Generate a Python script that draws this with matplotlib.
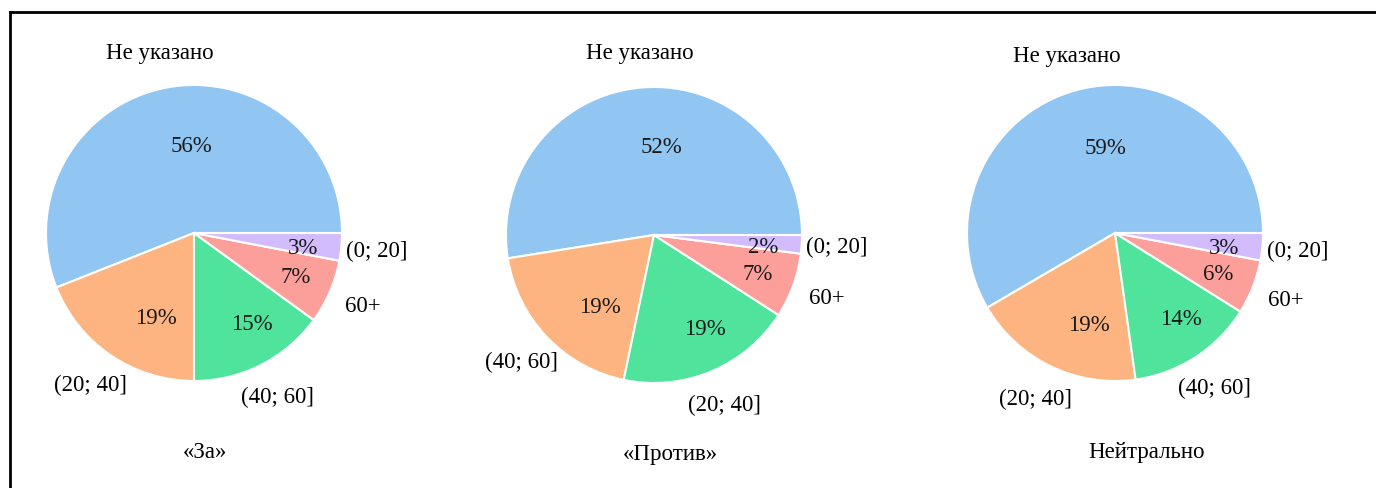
import matplotlib
matplotlib.use('Agg')
import matplotlib.pyplot as plt
from matplotlib.lines import Line2D

plt.rcParams['font.family'] = ['Liberation Serif', 'DejaVu Serif']
plt.rcParams['font.size'] = 16.5

# data, counterclockwise from 3 o'clock
titles = ['«За»', '«Против»', 'Нейтрально']
labels_za = ['Не указано', '(20; 40]', '(40; 60]', '60+', '(0; 20]']
values_za = [56, 19, 15, 7, 3]
labels_protiv = ['Не указано', '(40; 60]', '(20; 40]', '60+', '(0; 20]']
values_protiv = [52, 19, 19, 7, 2]
labels_neutral = ['Не указано', '(20; 40]', '(40; 60]', '60+', '(0; 20]']
values_neutral = [59, 19, 14, 6, 3]

colors = ['#90c6f1', '#fdb480', '#4fe39b', '#fc9f9b', '#d3bcfd']

W, H = 1376, 489
fig = plt.figure(figsize=(W / 100, H / 100), dpi=100)

# pie centres in pixels (x from left, y from bottom), radius 148 px
centers = [(194, 255), (654, 253), (1115, 255)]
side = 370
title_x = [0.53, 0.545, 0.585]

pies = [(labels_za, values_za), (labels_protiv, values_protiv), (labels_neutral, values_neutral)]

for i, (labs, vals) in enumerate(pies):
    cx, cy = centers[i]
    ax = fig.add_axes([(cx - side / 2) / W, (cy - side / 2) / H, side / W, side / H])
    wedges, texts, autotexts = ax.pie(vals, labels=labs, colors=colors, startangle=0,
                                      autopct='%d%%', pctdistance=0.64, labeldistance=1.24,
                                      wedgeprops=dict(edgecolor='white', linewidth=1.5))
    for t in texts:
        t.set_ha('center')
        t.set_va('center')
        t.set_clip_on(False)
    for t, v in zip(autotexts, vals):
        # percentages shown as rounded values, nudged a little right/down
        t.set_text('%d%%' % v)
        x, y = t.get_position()
        t.set_position((x + 0.1, y - 0.04))
        t.set_color('#1a1a1a')
    ax.text(title_x[i], -0.09, titles[i], transform=ax.transAxes, ha='center', va='center')

# cropped frame: top and left lines only
fig.add_artist(Line2D([10 / W, 1], [1 - 13 / H, 1 - 13 / H], color='black', linewidth=2, transform=fig.transFigure))
fig.add_artist(Line2D([10 / W, 10 / W], [0, 1 - 13 / H], color='black', linewidth=2, transform=fig.transFigure))

fig.savefig('out.png', dpi=100, facecolor='white')
